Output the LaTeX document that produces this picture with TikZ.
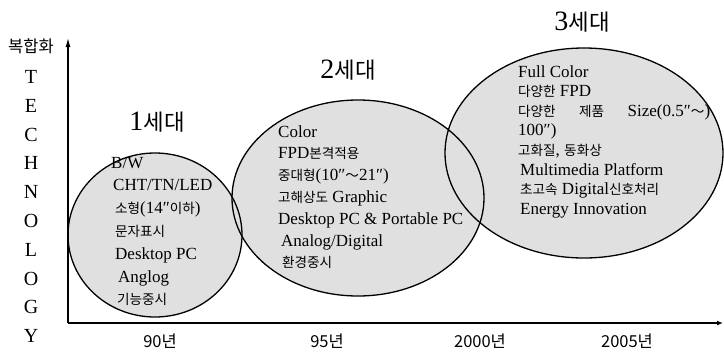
\documentclass[tikz,border=0pt]{standalone}
\usepackage{fontspec}
\setmainfont{Liberation Serif}
\newfontfamily\krfont{Noto Sans CJK KR}[Scale=0.8]
\newfontfamily\krfull{Noto Sans CJK KR}
\newcommand\kr[1]{{\krfont #1}}
\newcommand\txtlines[1]{\vtop{\lineskiplimit=-30pt\lineskip=0pt\halign{##\hfil\cr#1\crcr}}}
\usetikzlibrary{arrows.meta}
\tikzset{
  gen/.style={fill=black!12},
  genline/.style={draw=black, line width=1.3pt},
  axis/.style={draw=black, line width=1.2pt},
  body/.style={anchor=base west, inner sep=0pt},
  title/.style={inner sep=0pt, font=\fontsize{28}{30}\selectfont},
  year/.style={inner sep=0pt, font=\krfull\fontsize{16.5}{18}\selectfont},
  letter/.style={inner sep=0pt, font=\fontsize{20}{22}\selectfont},
}
\begin{document}
\begin{tikzpicture}[x=1pt,y=-1pt]
\useasboundingbox (0,0) rectangle (724,357);
% ellipses fills
\fill[gen] (155,235) ellipse [x radius=87pt, y radius=82pt];
\fill[gen] (358,198) ellipse [x radius=126pt, y radius=98pt];
\fill[gen] (584,153) ellipse [x radius=139pt, y radius=105pt];
\draw[genline] (155,235) ellipse [x radius=87pt, y radius=82pt];
\draw[genline] (358,198) ellipse [x radius=126pt, y radius=98pt];
\draw[genline] (584,153) ellipse [x radius=139pt, y radius=105pt];
% axes
\coordinate (O) at (68,323);
\coordinate (ytop) at (68,38);
\coordinate (xend) at (723,323);
\draw[axis, -{Latex[length=9pt,width=5pt]}] (O) -- (ytop);
\draw[axis, -{Latex[length=6pt,width=5pt]}] (O) -- (xend);
% y label
\node[inner sep=0pt, font=\krfull\fontsize{16.5}{18}\selectfont] (ylab) at (31,46) {복합화};
\foreach \ch [count=\i] in {T,E,C,H,N,O,L,O,G,Y}
  \node[letter] (L\i) at (31,{77+28.8*(\i-1)}) {\ch};
% titles
\node[title] (t1) at (157,122) {1\kr{세대}};
\node[title] (t2) at (348,70) {2\kr{세대}};
\node[title] (t3) at (582,22) {3\kr{세대}};
% body texts
\node[body, font=\fontsize{17}{22.8}\selectfont] (b1) at (111,168) {\txtlines{%
B/W\cr
\kern2pt CHT/TN/LED\cr
\kern4pt\kr{소형}(14″\kr{이하})\cr
\kern4pt\kr{문자표시}\cr
\kern4pt Desktop PC\cr
\kern7pt Anglog\cr
\kern6pt\kr{기능중시}\cr}};
\node[body, font=\fontsize{17}{21.8}\selectfont] (b2) at (278,137) {\txtlines{%
Color\cr
FPD\kr{본격적용}\cr
\kr{중대형}(10″\kr{～}21″)\cr
\kr{고해상도} Graphic\cr
Desktop PC \& Portable PC\cr
\kern3pt Analog/Digital\cr
\kern4pt\kr{환경중시}\cr}};
\node[body, font=\fontsize{17}{19.6}\selectfont] (b3) at (518,77) {\txtlines{%
Full Color\cr
\kr{다양한} FPD\cr
\hbox to 192pt{\kr{다양한}\hfil\kr{제품}\hfil Size(0.5″\kr{～})}\cr
100″)\cr
\kr{고화질}, \kr{동화상}\cr
\kern2pt Multimedia Platform\cr
\kern2pt\kr{초고속} Digital\kr{신호처리}\cr
\kern2pt Energy Innovation\cr}};
% years
\node[year] (y90) at (160,341) {90년};
\node[year] (y95) at (327,341) {95년};
\node[year] (y00) at (480,341) {2000년};
\node[year] (y05) at (627,341) {2005년};
\end{tikzpicture}
\end{document}
